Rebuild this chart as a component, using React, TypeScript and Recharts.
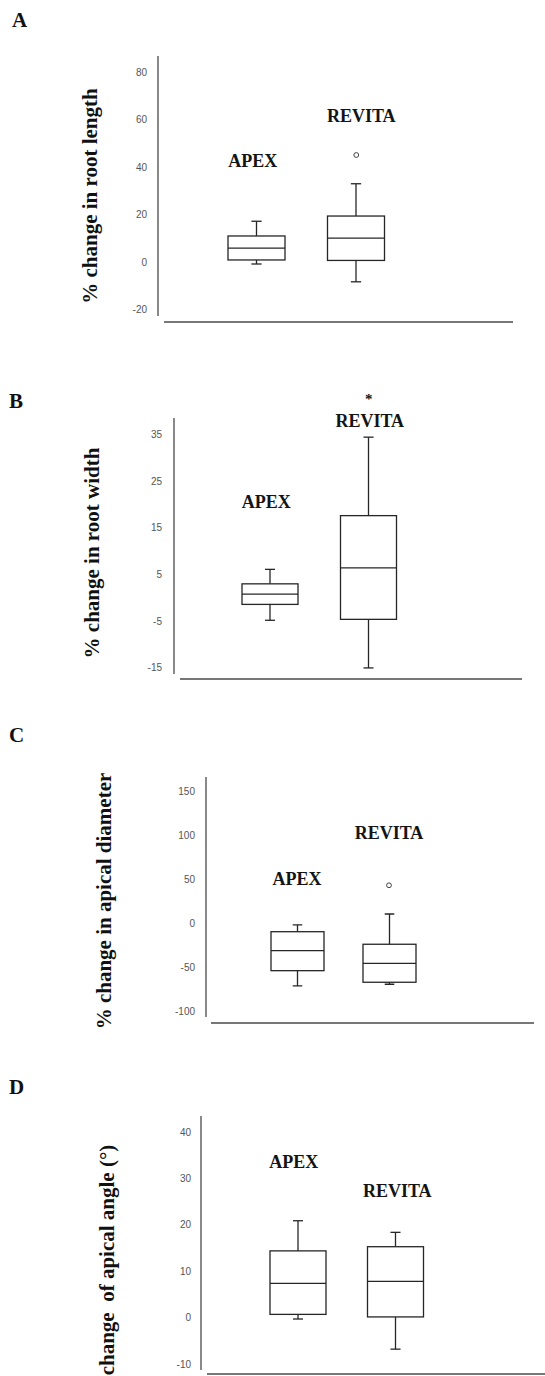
import React from 'react';
import { ComposedChart, Bar, Scatter, XAxis, YAxis, ReferenceDot } from 'recharts';

const groups = ['APEX', 'REVITA'];

// Panel A – % change in root length
const lengthMin = [-0.7, -8.2];
const lengthQ1 = [1.0, 0.8];
const lengthMedian = [6.0, 10.2];
const lengthQ3 = [11.1, 19.5];
const lengthMax = [17.3, 33.1];
const lengthOutliers: (number | null)[] = [null, 45.2];
const lengthTicks = [-20, 0, 20, 40, 60, 80];

// Panel B – % change in root width
const widthMin = [-4.8, -15.0];
const widthQ1 = [-1.4, -4.6];
const widthMedian = [0.8, 6.4];
const widthQ3 = [3.0, 17.6];
const widthMax = [6.1, 34.4];
const widthOutliers: (number | null)[] = [null, null];
const widthTicks = [-15, -5, 5, 15, 25, 35];

// Panel C – % change in apical diameter
const diameterMin = [-71.4, -69.5];
const diameterQ1 = [-54.0, -67.2];
const diameterMedian = [-31.2, -45.6];
const diameterQ3 = [-9.6, -23.9];
const diameterMax = [-1.9, 10.6];
const diameterOutliers: (number | null)[] = [null, 43.3];
const diameterTicks = [-100, -50, 0, 50, 100, 150];

// Panel D – change of apical angle
const angleMin = [-0.3, -6.8];
const angleQ1 = [0.7, 0.15];
const angleMedian = [7.4, 7.8];
const angleQ3 = [14.4, 15.3];
const angleMax = [20.9, 18.4];
const angleOutliers: (number | null)[] = [null, null];
const angleTicks = [-10, 0, 10, 20, 30, 40];

const buildRows = (
  mn: number[], q1: number[], med: number[], q3: number[], mx: number[], out: (number | null)[]
) =>
  groups.map((g, i) => ({
    group: g,
    min: mn[i],
    q1: q1[i],
    median: med[i],
    q3: q3[i],
    max: mx[i],
    outlier: out[i],
  }));

const SERIF = '"Liberation Serif", "Times New Roman", serif';
const SANS = '"Liberation Sans", Arial, sans-serif';
const BOX_COLOR = '#262626';
const AXIS_COLOR = '#4a4a4a';

const BoxShape = (props: any) => {
  const { x, y, width, height, payload } = props;
  if (x == null || y == null || !payload) return <g />;
  const top = Math.min(y, y + height);
  const h = Math.abs(height);
  const { min, q1, median, q3, max } = payload;
  const py = (v: number) => top + ((max - v) / (max - min)) * h;
  const cx = x + width / 2;
  const cap = width * 0.09;
  const sw = 1.3;
  return (
    <g stroke={BOX_COLOR} strokeWidth={sw} fill="none">
      <line x1={cx} x2={cx} y1={py(max)} y2={py(q3)} />
      <line x1={cx - cap} x2={cx + cap} y1={py(max)} y2={py(max)} />
      <line x1={cx} x2={cx} y1={py(q1)} y2={py(min)} />
      <line x1={cx - cap} x2={cx + cap} y1={py(min)} y2={py(min)} />
      <rect x={x} y={py(q3)} width={width} height={py(q1) - py(q3)} fill="#fff" />
      <line x1={x} x2={x + width} y1={py(median)} y2={py(median)} />
    </g>
  );
};

const OutlierShape = (props: any) => {
  const { cx, cy, payload } = props;
  if (!payload || payload.outlier == null || cx == null || cy == null || isNaN(cy)) return <g />;
  return <circle cx={cx} cy={cy} r={2.4} fill="#fff" stroke="#444" strokeWidth={1} />;
};

const makeLabel = (text: string, dx: number, size: number) => (p: any) =>
  (
    <text
      x={(p.cx ?? 0) + dx}
      y={p.cy}
      textAnchor="middle"
      dominantBaseline="central"
      fontFamily={SERIF}
      fontWeight="bold"
      fontSize={size}
      fill="#141414"
    >
      {text}
    </text>
  );

type LabelSpec = { group: string; value: number; text: string; dx: number; size: number };

type PanelSpec = {
  key: string;
  rows: any[];
  ticks: number[];
  domain: [number, number];
  axisX: number;
  axisTop: number;
  axisBottom: number;
  plotRight: number;
  lineDx: number;
  lineDy: number;
  padL: number;
  padR: number;
  barSize: number;
  tickMargin: number;
  labels: LabelSpec[];
};

const panels: PanelSpec[] = [
  {
    key: 'A',
    rows: buildRows(lengthMin, lengthQ1, lengthMedian, lengthQ3, lengthMax, lengthOutliers),
    ticks: lengthTicks,
    domain: [-22.6, 86.9],
    axisX: 158, axisTop: 56, axisBottom: 316, plotRight: 507,
    lineDx: 6, lineDy: 6, padL: 49, padR: 101, barSize: 57, tickMargin: 11,
    labels: [
      { group: 'APEX', value: 42.5, text: 'APEX', dx: -4, size: 18 },
      { group: 'REVITA', value: 61.6, text: 'REVITA', dx: 5, size: 18 },
    ],
  },
  {
    key: 'B',
    rows: buildRows(widthMin, widthQ1, widthMedian, widthQ3, widthMax, widthOutliers),
    ticks: widthTicks,
    domain: [-16.3, 38.5],
    axisX: 174, axisTop: 418, axisBottom: 674, plotRight: 516,
    lineDx: 6, lineDy: 5, padL: 47, padR: 98, barSize: 56, tickMargin: 12,
    labels: [
      { group: 'APEX', value: 20.5, text: 'APEX', dx: -4, size: 18 },
      { group: 'REVITA', value: 37.9, text: 'REVITA', dx: 1, size: 18 },
      { group: 'REVITA', value: 42.6, text: '*', dx: 0, size: 15 },
    ],
  },
  {
    key: 'C',
    rows: buildRows(diameterMin, diameterQ1, diameterMedian, diameterQ3, diameterMax, diameterOutliers),
    ticks: diameterTicks,
    domain: [-106.8, 166.7],
    axisX: 206, axisTop: 777, axisBottom: 1017, plotRight: 529,
    lineDx: 5, lineDy: 6, padL: 45, padR: 94, barSize: 53, tickMargin: 11,
    labels: [
      { group: 'APEX', value: 50.5, text: 'APEX', dx: 0, size: 18 },
      { group: 'REVITA', value: 102.9, text: 'REVITA', dx: 0, size: 18 },
    ],
  },
  {
    key: 'D',
    rows: buildRows(angleMin, angleQ1, angleMedian, angleQ3, angleMax, angleOutliers),
    ticks: angleTicks,
    domain: [-11.3, 43.5],
    axisX: 201, axisTop: 1116, axisBottom: 1370, plotRight: 539,
    lineDx: 6, lineDy: 4, padL: 48, padR: 95, barSize: 56, tickMargin: 10,
    labels: [
      { group: 'APEX', value: 33.6, text: 'APEX', dx: -4, size: 18 },
      { group: 'REVITA', value: 27.3, text: 'REVITA', dx: 2, size: 18 },
    ],
  },
];

const titles = [
  { text: '% change in root length', x: 90, y: 196 },
  { text: '% change in root width', x: 92, y: 553 },
  { text: '% change in apical diameter', x: 104, y: 901 },
  { text: 'change\u00A0 of apical angle (°)', x: 107, y: 1260 },
];

const letters = [
  { text: 'A', x: 12, y: 27 },
  { text: 'B', x: 9, y: 408 },
  { text: 'C', x: 9, y: 742 },
  { text: 'D', x: 9, y: 1094 },
];

const TOP_PAD = 30;
const X_AXIS_H = 20;

const Panel = ({ p }: { p: PanelSpec }) => {
  const plotH = p.axisBottom - p.axisTop;
  const chartH = plotH + TOP_PAD + X_AXIS_H;
  return (
    <div style={{ position: 'absolute', left: 0, top: p.axisTop - TOP_PAD, width: 545, height: chartH }}>
      <ComposedChart
        width={545}
        height={chartH}
        data={p.rows}
        margin={{ top: TOP_PAD, right: 545 - p.plotRight, bottom: 0, left: 0 }}
      >
        <XAxis
          dataKey="group"
          type="category"
          height={X_AXIS_H}
          tick={false}
          tickLine={false}
          padding={{ left: p.padL, right: p.padR }}
          axisLine={{ stroke: AXIS_COLOR, strokeWidth: 1.3, transform: `translate(${p.lineDx},${p.lineDy})` } as any}
        />
        <YAxis
          type="number"
          width={p.axisX}
          domain={p.domain}
          ticks={p.ticks}
          allowDataOverflow
          interval={0}
          tickLine={false}
          tickSize={0}
          tickMargin={p.tickMargin}
          axisLine={{ stroke: AXIS_COLOR, strokeWidth: 1.3 }}
          tick={{ fill: '#555', fontSize: 10, fontFamily: SANS }}
        />
        <Bar
          dataKey={(d: any) => [d.min, d.max]}
          barSize={p.barSize}
          shape={BoxShape}
          isAnimationActive={false}
        />
        <Scatter dataKey="outlier" shape={OutlierShape} isAnimationActive={false} />
        {p.labels.map((l, i) => (
          <ReferenceDot
            key={i}
            x={l.group}
            y={l.value}
            r={0}
            ifOverflow="visible"
            shape={makeLabel(l.text, l.dx, l.size)}
          />
        ))}
      </ComposedChart>
    </div>
  );
};

export default function App() {
  return (
    <div
      style={{
        position: 'absolute',
        left: 0,
        top: 0,
        width: 545,
        height: 1376,
        overflow: 'hidden',
        background: '#fff',
      }}
    >
      {panels.map((p) => (
        <Panel key={p.key} p={p} />
      ))}
      <svg
        width={545}
        height={1376}
        style={{ position: 'absolute', left: 0, top: 0, pointerEvents: 'none' }}
      >
        {letters.map((l) => (
          <text key={l.text} x={l.x} y={l.y} fontFamily={SERIF} fontWeight="bold" fontSize={21} fill="#111">
            {l.text}
          </text>
        ))}
        {titles.map((t) => (
          <text
            key={t.text}
            x={t.x}
            y={t.y}
            transform={`rotate(-90 ${t.x} ${t.y})`}
            textAnchor="middle"
            dominantBaseline="central"
            fontFamily={SERIF}
            fontWeight="bold"
            fontSize={21}
            fill="#111"
          >
            {t.text}
          </text>
        ))}
      </svg>
    </div>
  );
}
